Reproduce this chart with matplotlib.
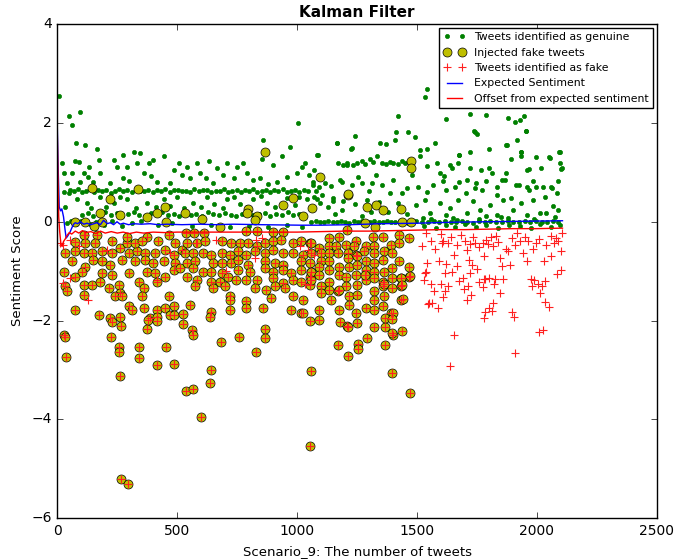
import numpy as np
import matplotlib
matplotlib.use('Agg')
import matplotlib.pyplot as plt

# ---- genuine tweets (green dots) ----
genuine_high = [
    (6, 2.54), (47, 2.13), (96, 2.21), (61, 1.95), (79, 1.59), (117, 1.56), (165, 1.47), (172, 1.25),
    (89, 1.2), (75, 1.22), (61, 0.98), (26, 0.98), (19, 1.18), (110, 0.98), (131, 1.11), (179, 0.98),
    (235, 1.25), (276, 1.35), (318, 1.42), (346, 1.39), (249, 1.11), (290, 1.11), (332, 1.18), (381, 1.18),
    (401, 1.25), (443, 1.32), (485, 1.05), (506, 1.18), (540, 1.11), (582, 1.18), (631, 1.22), (665, 1.08),
    (707, 1.18), (749, 1.11), (776, 1.18), (818, 0.85), (860, 1.65), (853, 1.27), (901, 1.15), (936, 1.32),
    (971, 1.52), (1003, 2.0), (1019, 1.11), (1033, 1.18), (1082, 1.35), (1165, 1.59), (1172, 1.18), (1207, 1.15),
    (40, 0.78), (96, 0.81), (151, 0.81), (221, 0.78), (276, 0.88), (360, 0.98), (415, 0.81), (471, 0.78),
    (554, 0.88), (596, 0.98), (651, 0.78), (735, 0.88), (790, 0.98), (846, 0.88), (915, 0.81), (999, 0.98),
    (1068, 0.81), (1117, 0.78), (1186, 0.81), (130, 0.9), (300, 0.82), (390, 0.92), (520, 0.95), (620, 0.88),
    (690, 0.95), (880, 0.76), (960, 0.9), (1050, 0.95),
]
genuine_mid = [
    (47, 0.58), (82, 0.45), (124, 0.38), (179, 0.51), (235, 0.38), (290, 0.45), (374, 0.38), (443, 0.45),
    (499, 0.51), (568, 0.38), (624, 0.51), (707, 0.45), (763, 0.35), (818, 0.45), (874, 0.38), (957, 0.48),
    (1040, 0.45), (1096, 0.38), (1151, 0.48), (1193, 0.41), (33, 0.3), (140, 0.28), (205, 0.3), (262, 0.5),
    (330, 0.28), (410, 0.3), (470, 0.32), (530, 0.28), (600, 0.3), (655, 0.35), (690, 0.28), (735, 0.5),
    (790, 0.3), (850, 0.52), (910, 0.29), (990, 0.33), (1010, 0.5),
]
genuine_band_upper = [
    (30, 0.6), (52, 0.64), (70, 0.62), (88, 0.67), (105, 0.61), (120, 0.63), (138, 0.66), (155, 0.6),
    (170, 0.64), (188, 0.62), (205, 0.65), (222, 0.59), (240, 0.63), (258, 0.66), (275, 0.62), (292, 0.64),
    (310, 0.61), (328, 0.67), (345, 0.62), (362, 0.63), (380, 0.65), (398, 0.6), (415, 0.64), (432, 0.63),
    (450, 0.66), (468, 0.61), (485, 0.64), (502, 0.65), (520, 0.62), (538, 0.63), (555, 0.61), (572, 0.66),
    (590, 0.62), (608, 0.64), (625, 0.65), (642, 0.6), (660, 0.63), (678, 0.62), (695, 0.67), (712, 0.61),
    (730, 0.63), (748, 0.64), (765, 0.6), (782, 0.65), (800, 0.62), (818, 0.66), (835, 0.61), (852, 0.63),
    (870, 0.64), (888, 0.6), (905, 0.65), (922, 0.62), (940, 0.66), (958, 0.61), (975, 0.63), (992, 0.64),
    (1010, 0.6), (1028, 0.65), (1045, 0.62),
]
genuine_band_lower = [
    (105, 0.14), (128, 0.18), (150, 0.12), (176, 0.16), (198, 0.2), (224, 0.13), (247, 0.17), (268, 0.11),
    (293, 0.15), (318, 0.19), (340, 0.14), (366, 0.12), (389, 0.17), (412, 0.15), (437, 0.2), (461, 0.13),
    (486, 0.16), (508, 0.11), (531, 0.18), (557, 0.14), (579, 0.16), (603, 0.12), (628, 0.19), (650, 0.15),
    (676, 0.13), (699, 0.17), (723, 0.14), (746, 0.11), (770, 0.16), (794, 0.19), (817, 0.13), (842, 0.15),
    (866, 0.18), (889, 0.12), (912, 0.16), (938, 0.14), (961, 0.2), (985, 0.13), (1008, 0.16), (1032, 0.12),
    (40, -0.02), (58, 0.01), (80, -0.05), (100, 0.02), (135, -0.04), (160, 0.0), (195, -0.06), (230, 0.02),
    (270, -0.08), (310, -0.03), (350, 0.01), (420, -0.07), (480, -0.02), (560, -0.09), (640, -0.06),
    (720, -0.1), (800, -0.08), (880, -0.11), (960, -0.07), (1020, -0.1),
]
genuine_late = [
    (1541, 2.69), (1533, 2.52), (1422, 2.13), (1243, 1.73), (1166, 1.6), (1227, 1.48), (1086, 1.36),
    (1072, 1.05), (1065, 0.75), (1078, 0.62), (1090, 0.7), (1070, 0.5), (1102, 0.55), (1085, 0.45),
    (1346, 1.59), (1373, 1.58), (1408, 1.66), (1412, 1.81), (1464, 1.81), (1492, 1.71), (1228, 1.49),
    (1193, 1.15), (1207, 1.19), (1235, 1.15), (1248, 1.19), (1269, 1.22), (1283, 1.17), (1304, 1.26),
    (1318, 1.2), (1332, 1.32), (1353, 1.19), (1373, 1.17), (1387, 1.2), (1401, 1.19), (1422, 1.17),
    (1436, 1.22), (1450, 1.19), (1228, 0.75), (1269, 0.78), (1311, 0.79), (1353, 0.75), (1387, 0.58),
    (1436, 0.58), (1140, 0.72), (1180, 0.85), (1255, 0.9), (1300, 0.62), (1330, 0.95), (1400, 0.85),
    (1460, 0.68), (1480, 0.95), (1186, 0.24), (1290, 0.44), (1130, 0.3), (1160, 0.15), (1240, 0.35),
    (1270, 0.12), (1340, 0.4), (1380, 0.2), (1420, 0.38), (1460, 0.15), (1150, 0.42), (1310, 0.2),
    (1623, 2.08), (1721, 2.17), (1790, 2.15), (1880, 2.1), (1908, 2.01), (1929, 2.06), (1946, 2.13),
    (1742, 1.81), (1751, 1.77), (1954, 1.83), (1575, 1.59), (1512, 1.46), (1543, 1.47), (1871, 1.55),
    (1936, 1.42), (1918, 1.66), (2096, 1.41), (1721, 1.42), (1676, 1.36), (1512, 1.32), (1540, 1.12),
    (1582, 1.19), (1596, 0.99), (1637, 1.15), (1672, 1.19), (1721, 1.09), (1769, 1.05), (1811, 0.99),
    (1873, 0.99), (1894, 1.26), (1936, 1.32), (1957, 1.05), (2019, 1.09), (2054, 1.29), (2096, 1.19),
    (2103, 1.09), (1505, 0.71), (1540, 0.61), (1568, 0.75), (1610, 0.82), (1658, 0.71), (1707, 0.85),
    (1742, 0.68), (1790, 0.82), (1832, 0.71), (1866, 0.85), (1915, 0.75), (1957, 0.71), (1985, 0.82),
    (2026, 0.71), (2061, 0.71), (2089, 0.82), (1498, 0.34), (1533, 0.44), (1596, 0.38), (1637, 0.28),
    (1672, 0.44), (1735, 0.41), (1762, 0.24), (1804, 0.34), (1860, 0.44), (1901, 0.24), (1936, 0.38),
    (1985, 0.44), (2012, 0.18), (2068, 0.31), (2089, 0.24), (1554, 0.18), (1623, 0.14), (1707, 0.18),
    (1790, 0.11), (1832, 0.14), (1957, 0.14), (2040, 0.18), (1526, 0.07), (1665, 0.04), (1880, 0.07),
    (1738, 1.83), (1800, 1.47), (1877, 1.56), (1953, 1.83), (1675, 1.36), (1932, 1.42), (1995, 1.31),
    (2050, 1.31), (2092, 1.42), (1648, 1.09), (1800, 1.09), (1967, 1.06), (2099, 1.06), (1613, 0.92),
    (1675, 0.81), (1745, 0.78), (1856, 0.85), (1925, 0.75), (1995, 0.71), (2064, 0.68), (1620, 0.65),
    (1703, 0.58), (1773, 0.65), (1835, 0.55), (1891, 0.48), (1967, 0.65), (2036, 0.51), (2085, 0.58),
]
genuine_zero_band = [
    (1060, 0.0), (1078, 0.01), (1095, -0.01), (1112, 0.0), (1130, 0.02), (1148, 0.0), (1165, -0.01),
    (1182, 0.01), (1200, 0.0), (1218, -0.02), (1236, 0.01), (1253, 0.0), (1270, 0.02), (1288, -0.01),
    (1305, 0.0), (1322, 0.01), (1340, -0.01), (1358, 0.0), (1375, 0.02), (1393, 0.0), (1410, -0.01),
    (1428, 0.01), (1445, 0.0), (1463, -0.02), (1480, 0.0), (1498, 0.01), (1520, 0.0), (1545, -0.01),
    (1570, 0.02), (1592, 0.0), (1615, 0.01), (1640, -0.01), (1662, 0.0), (1688, 0.02), (1710, 0.0),
    (1735, -0.02), (1758, 0.01), (1782, 0.0), (1806, 0.01), (1830, -0.01), (1855, 0.0), (1878, 0.02),
    (1902, 0.0), (1925, -0.01), (1950, 0.01), (1973, 0.0), (1996, 0.02), (2020, -0.01), (2043, 0.0),
    (2066, 0.01), (2090, 0.0), (1530, -0.08), (1580, -0.12), (1620, -0.06), (1660, -0.1), (1700, -0.05),
    (1745, -0.11), (1790, -0.07), (1840, -0.13), (1885, -0.06), (1930, -0.09), (1975, -0.12),
    (2015, -0.05), (2060, -0.1), (2095, -0.07), (1560, 0.05), (1650, 0.08), (1760, 0.06), (1850, 0.09),
    (1990, 0.05), (2075, 0.09),
]

# ---- injected fake tweets (yellow circles) ----
injected_missed = [
    (145, 0.69), (221, 0.45), (179, 0.18), (262, 0.14), (338, 0.67), (375, 0.1), (416, 0.18), (450, 0.3),
    (454, 0.0), (533, 0.18), (604, 0.06), (679, -0.1), (795, 0.26), (791, 0.18), (833, 0.12), (825, 0.04),
    (867, 1.42), (942, 0.34), (983, 0.49), (1025, 0.12), (1063, 0.28), (1096, 0.91), (1213, 0.55),
    (75, 0.0), (117, 0.0), (188, 0.0), (154, -0.08), (1213, 0.57), (1292, 0.3), (1329, 0.33), (1358, 0.23),
    (1433, 0.26), (1475, 1.22), (1475, 1.09), (1283, -0.02), (1325, -0.1), (1438, 0.0), (1475, 0.0),
]
injected_early = [
    (33, -0.64), (75, -0.6), (110, -0.64), (144, -0.64), (186, -0.6), (228, -0.64), (263, -0.53), (290, -0.43),
    (297, -0.64), (332, -0.6), (367, -0.64), (408, -0.64), (450, -0.57), (485, -0.67), (519, -0.57),
    (61, -0.8), (117, -0.91), (151, -0.77), (186, -0.8), (221, -0.87), (270, -0.77), (325, -0.8), (367, -0.77),
    (401, -0.84), (443, -0.8), (492, -0.84), (26, -1.01), (103, -1.01), (75, -1.11), (186, -1.04),
    (228, -1.07), (297, -1.04), (339, -1.21), (374, -1.01), (408, -1.04), (450, -1.11), (485, -0.97),
    (512, -0.94), (33, -1.31), (40, -1.41), (110, -1.28), (144, -1.28), (179, -1.21), (214, -1.34),
    (256, -1.28), (263, -1.44), (360, -1.34), (415, -1.21), (110, -1.48), (242, -1.51), (270, -1.51),
    (353, -1.51), (464, -1.51), (297, -1.71), (311, -1.78), (360, -1.75), (415, -1.78), (450, -1.75),
    (485, -1.71), (75, -1.78), (172, -1.88), (263, -1.92), (388, -1.95), (471, -1.88), (110, -0.26),
    (165, -0.26), (290, -0.3), (325, -0.43), (374, -0.3), (464, -0.26), (75, -0.41), (117, -0.43),
    (158, -0.43), (228, -0.4), (353, -0.4), (422, -0.4), (492, -0.43),
]
injected_middle = [
    (536, -0.22), (571, -0.22), (611, -0.22), (789, -0.18), (831, -0.18), (900, -0.2), (942, -0.2),
    (539, -0.43), (581, -0.43), (615, -0.4), (685, -0.4), (726, -0.43), (761, -0.43), (796, -0.43),
    (831, -0.5), (865, -0.43), (900, -0.4), (935, -0.37), (983, -0.43), (1018, -0.4), (1053, -0.43),
    (532, -0.64), (567, -0.64), (608, -0.64), (643, -0.67), (685, -0.64), (719, -0.67), (754, -0.6),
    (789, -0.67), (824, -0.6), (865, -0.64), (900, -0.57), (942, -0.64), (983, -0.64), (1025, -0.67),
    (539, -0.84), (574, -0.8), (650, -0.84), (685, -0.84), (726, -0.84), (754, -0.77), (796, -0.87),
    (865, -0.8), (907, -0.84), (942, -0.87), (1018, -0.8), (1053, -0.84), (567, -0.94), (608, -1.01),
    (643, -1.01), (685, -1.04), (754, -0.97), (803, -1.01), (865, -0.94), (900, -1.01), (942, -0.97),
    (976, -1.04), (1018, -0.97), (1060, -1.01), (539, -1.11), (581, -1.17), (643, -1.21), (678, -1.21),
    (713, -1.11), (747, -1.17), (789, -1.17), (831, -1.17), (900, -1.14), (942, -1.24), (983, -1.17),
    (1018, -1.21), (1053, -1.11), (574, -1.31), (650, -1.34), (699, -1.31), (824, -1.34), (872, -1.38),
    (907, -1.31), (949, -1.34), (1053, -1.28), (719, -1.51), (719, -1.58), (789, -1.61), (893, -1.55),
    (983, -1.51), (1025, -1.58), (553, -1.68), (643, -1.82), (719, -1.78), (789, -1.75), (858, -1.75),
    (976, -1.78), (1018, -1.85),
]
injected_late = [
    (1208, -0.16), (1058, -0.43), (1134, -0.33), (1176, -0.3), (1246, -0.4), (1315, -0.3), (1357, -0.3),
    (1426, -0.26), (1468, -0.33), (1093, -0.53), (1134, -0.5), (1162, -0.5), (1204, -0.47), (1239, -0.5),
    (1287, -0.5), (1322, -0.5), (1391, -0.47), (1426, -0.43), (1058, -0.64), (1100, -0.64), (1134, -0.64),
    (1169, -0.64), (1211, -0.64), (1246, -0.67), (1280, -0.6), (1322, -0.64), (1364, -0.6), (1398, -0.64),
    (1100, -0.8), (1134, -0.8), (1211, -0.74), (1252, -0.7), (1287, -0.8), (1322, -0.84), (1357, -0.77),
    (1426, -0.8), (1093, -0.91), (1134, -0.97), (1176, -0.91), (1218, -0.91), (1252, -0.87), (1287, -0.97),
    (1322, -1.01), (1364, -1.01), (1398, -0.94), (1468, -0.91), (1058, -1.01), (1093, -1.07), (1134, -1.21),
    (1176, -1.07), (1204, -1.11), (1246, -1.07), (1287, -1.17), (1322, -1.14), (1357, -1.21), (1398, -1.14),
    (1433, -1.14), (1468, -1.11), (1058, -1.17), (1100, -1.31), (1134, -1.38), (1169, -1.41), (1204, -1.31),
    (1252, -1.28), (1322, -1.41), (1357, -1.31), (1398, -1.34), (1433, -1.31), (1100, -1.44), (1141, -1.58),
    (1176, -1.38), (1218, -1.51), (1252, -1.48), (1322, -1.58), (1364, -1.51), (1433, -1.58), (1093, -1.78),
    (1176, -1.78), (1218, -1.68), (1246, -1.85), (1287, -1.75), (1322, -1.78), (1357, -1.71), (1391, -1.85),
    (1471, -1.1), (1433, -1.13), (1283, -1.08), (1442, -1.57), (1363, -1.26), (1438, -1.29),
]
injected_low = [
    (29, -2.29), (33, -2.33), (37, -2.73), (262, -3.12), (258, -2.53), (258, -2.63), (267, -5.2), (296, -5.3),
    (225, -2.33), (266, -2.1), (375, -2.17), (342, -2.53), (342, -2.75), (416, -2.89), (454, -2.53),
    (488, -2.87), (537, -3.42), (566, -3.38), (600, -3.95), (642, -3.0), (637, -3.26), (683, -2.43),
    (758, -2.33), (829, -2.63), (867, -2.17), (867, -2.35), (1058, -3.02), (1054, -4.53), (1171, -2.49),
    (1213, -2.71), (525, -2.07), (562, -2.19), (566, -2.29), (221, -1.95), (229, -2.03), (379, -1.98),
    (416, -1.93), (416, -2.0), (488, -1.88), (525, -1.87), (637, -1.93), (1025, -1.85), (1054, -2.0),
    (1092, -1.99), (1179, -2.03), (1208, -2.1), (1471, -3.46), (1396, -3.06), (1254, -2.47), (1254, -2.57),
    (1292, -2.35), (1367, -2.49), (1400, -2.29), (1396, -2.25), (1438, -2.22), (1213, -2.13), (1250, -2.04),
    (1321, -2.12), (1367, -2.12), (1367, -1.95), (1400, -1.85), (1396, -1.97),
]

# ---- genuine tweets flagged as fake (red crosses without circle) ----
false_alarms = [
    (12, -0.43), (22, -0.48), (54, -0.36), (92, -0.5), (117, -0.27), (208, -0.57), (25, -1.24), (54, -1.13),
    (129, -1.58), (471, -0.63), (416, -1.17), (579, -0.43), (663, -0.36), (704, -1.0), (829, -0.36),
    (825, -0.74), (854, -0.33), (1013, -0.5), (1033, -1.27), (1046, -0.57), (1071, -0.67),
    (1638, -2.92), (1908, -2.65), (1654, -2.3), (2008, -2.23), (2025, -2.2), (1779, -1.94), (1904, -1.92),
    (1546, -1.66), (1563, -1.64), (1588, -1.74), (1800, -1.74), (1813, -1.8), (2050, -1.72), (1708, -1.58),
    (1608, -1.53), (1558, -1.27), (1571, -1.4), (1600, -1.27), (1617, -1.41), (1675, -1.2), (1696, -1.37),
    (1713, -1.31), (1758, -1.22), (1775, -1.32), (1783, -1.15), (1821, -1.25), (1825, -1.15), (1858, -1.15),
    (1846, -1.44), (1979, -1.3), (1988, -1.17), (2013, -1.44), (2021, -1.3), (2033, -1.2), (1533, -1.03),
    (1617, -1.03), (1646, -1.02), (1721, -1.03), (2100, -0.97), (1604, -0.43), (1629, -0.43), (1654, -0.67),
    (1621, -0.85), (1700, -0.38), (1708, -0.58), (1717, -0.77), (1729, -0.87), (1742, -0.43), (1775, -0.43),
    (1796, -0.46), (1817, -0.5), (1779, -0.7), (1846, -0.74), (1854, -0.9), (1888, -0.87), (1929, -0.4),
    (1942, -0.63), (1963, -0.4), (1996, -0.43), (2029, -0.8), (2071, -0.43), (2079, -0.33), (2104, -0.23),
    (1917, -0.23), (1808, -0.3), (1975, -1.16), (2004, -1.26), (1800, -1.13), (1779, -1.16), (1692, -1.13),
    (1629, -1.3), (1725, -1.48), (1817, -1.65), (1896, -1.82), (2033, -1.62), (1783, -1.82), (1600, -0.25),
    (1610, -0.38), (1640, -0.3), (1665, -0.48), (1685, -0.27), (1720, -0.45), (1735, -0.3), (1760, -0.52),
    (1790, -0.36), (1830, -0.28), (1840, -0.42), (1870, -0.55), (1895, -0.33), (1910, -0.47), (1950, -0.3),
    (1985, -0.55), (2010, -0.35), (2040, -0.48), (2060, -0.28), (2090, -0.4), (2100, -0.6), (1537, -0.23),
    (1558, -0.4), (1544, -0.84), (1537, -1.01), (1530, -1.17), (1551, -1.65), (1590, -0.8), (1575, -0.55),
    (1520, -0.5), (1665, -0.9), (1750, -0.95), (1880, -0.6), (1960, -0.8), (2060, -0.7), (2085, -1.05),
]

# ---- filter outputs ----
expected_x = [0, 3, 8, 14, 19, 26, 32, 37, 42, 47, 54, 61, 68, 75, 85, 96, 110, 124, 140, 165, 180, 193,
              208, 221, 235, 249, 262, 276, 297, 318, 350, 387, 420, 457, 520, 596, 660, 735, 850, 1013,
              1100, 1221, 1350, 1500, 1650, 1800, 1950, 2107]
expected_y = [1.92, 1.2, 0.3, 0.22, 0.26, 0.1, -0.15, -0.33, -0.3, -0.26, -0.2, -0.12, -0.05, -0.02,
              -0.04, 0.0, -0.05, -0.03, -0.06, -0.02, -0.06, 0.03, -0.04, -0.02, -0.06, 0.0, -0.05, -0.03,
              -0.06, -0.04, -0.05, -0.04, -0.06, -0.05, -0.06, -0.05, -0.06, -0.05, -0.06, -0.07, -0.07,
              -0.06, -0.04, -0.03, -0.01, 0.0, 0.01, 0.02]
offset_x = [0, 3, 6, 10, 15, 20, 26, 33, 40, 50, 60, 75, 90, 105, 120, 140, 160, 180, 200, 225, 250,
            275, 300, 330, 360, 400, 450, 500, 600, 700, 800, 900, 1000, 1100, 1200, 1300, 1400, 1500,
            1600, 1700, 1800, 1900, 2000, 2107]
offset_y = [1.8, 0.9, 0.1, -0.2, -0.45, -0.5, -0.4, -0.35, -0.28, -0.22, -0.25, -0.19, -0.23, -0.18,
            -0.22, -0.2, -0.24, -0.19, -0.23, -0.2, -0.23, -0.21, -0.24, -0.21, -0.23, -0.21, -0.22,
            -0.21, -0.21, -0.21, -0.21, -0.21, -0.21, -0.2, -0.19, -0.19, -0.18, -0.17, -0.16, -0.16,
            -0.15, -0.14, -0.14, -0.13]

genuine = np.array(genuine_high + genuine_mid + genuine_band_upper + genuine_band_lower
                   + genuine_late + genuine_zero_band)
injected = np.array(injected_missed + injected_early + injected_middle + injected_late + injected_low)
# injected tweets that fell below the offset line were flagged as fake
caught = injected[injected[:, 1] < -0.15]
flagged = np.vstack([caught, np.array(false_alarms)])

plt.style.use('classic')
plt.rcParams['font.family'] = 'DejaVu Sans'

fig = plt.figure(figsize=(6.97, 5.6), dpi=100, facecolor='white')
ax = fig.add_axes([0.0822, 0.0745, 0.86, 0.8826])
ax.set_facecolor('white')

ax.plot(genuine[:, 0], genuine[:, 1], 'g.', label='Tweets identified as genuine')
ax.plot(injected[:, 0], injected[:, 1], 'yo', markersize=6.5, label='Injected fake tweets')
ax.plot(flagged[:, 0], flagged[:, 1], '+', color='#ff2020', markeredgecolor='#ff2020',
        markersize=6, markeredgewidth=0.8, label='Tweets identified as fake')
ax.plot(expected_x, expected_y, 'b-', linewidth=1, label='Expected Sentiment')
ax.plot(offset_x, offset_y, 'r-', linewidth=1, label='Offset from expected sentiment')

ax.set_xlim(0, 2500)
ax.set_ylim(-6, 4)
ax.tick_params(labelsize=10)
ax.set_title('Kalman Filter', fontsize=11, fontweight='bold')
ax.set_xlabel('Scenario_9: The number of tweets', fontsize=9.5)
ax.set_ylabel('Sentiment Score', fontsize=9.5)
ax.legend(loc='upper right', fontsize=7.8, numpoints=2, borderaxespad=0.35)

fig.savefig('out.png', dpi=100, facecolor='white')
